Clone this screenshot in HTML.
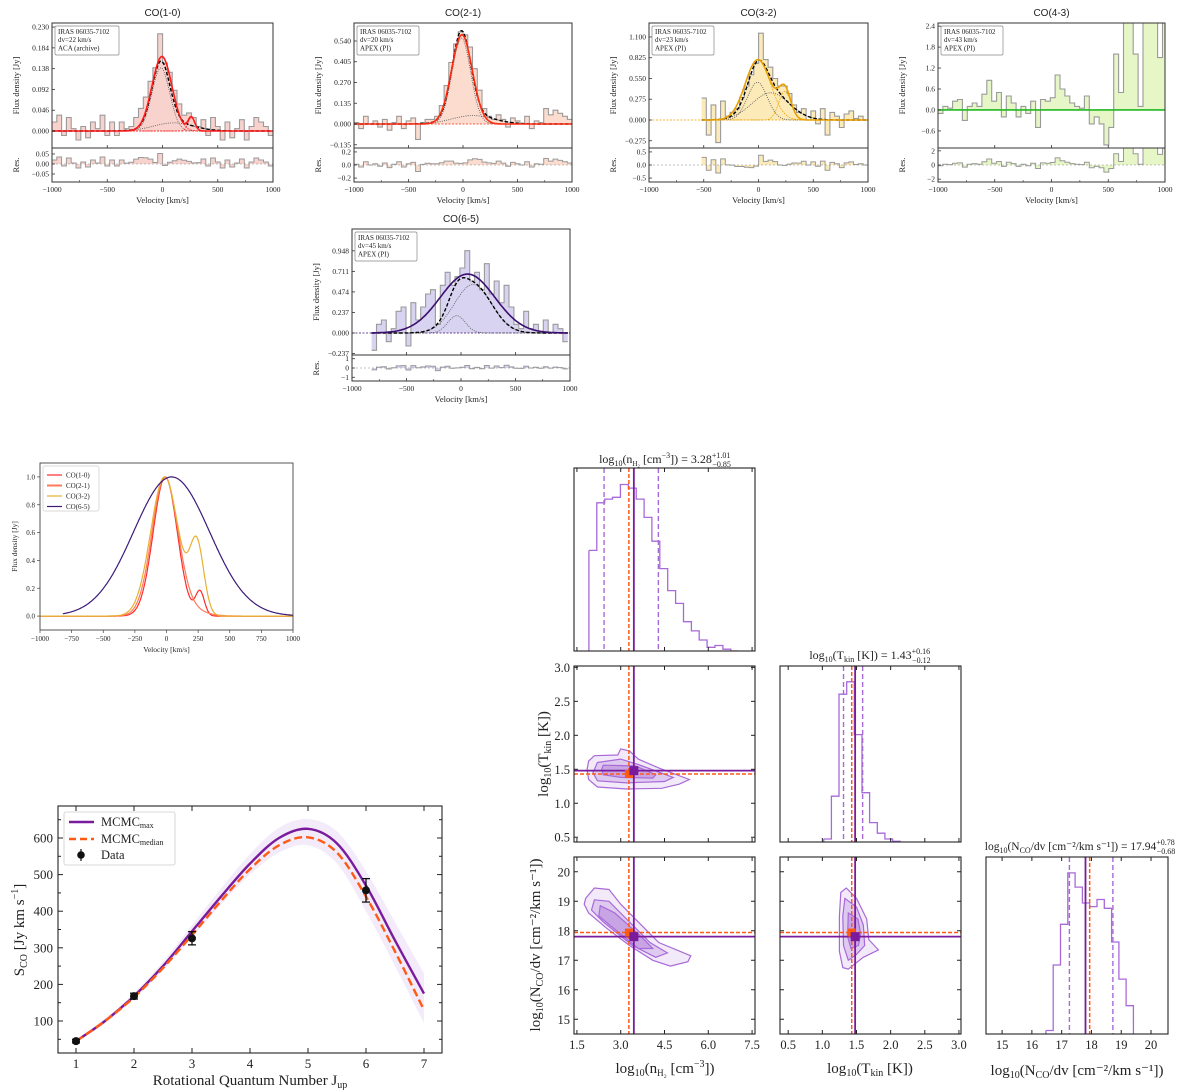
<!DOCTYPE html>
<html><head><meta charset="utf-8"><title>CO SLED figure</title>
<style>
html,body{margin:0;padding:0;background:#fff;}
svg{display:block;}
text{font-family:"Liberation Serif","DejaVu Serif",serif;fill:#222;}
.sans{font-family:"Liberation Sans","DejaVu Sans",sans-serif;}
</style></head>
<body>
<svg id="fig" xmlns="http://www.w3.org/2000/svg" width="1200" height="1090" viewBox="0 0 1200 1090"></svg>
<script>
// ---------------- DATA ----------------
const co10Start=-1000, co10Width=43.5;
const co10Values=[0.02,0.035,-0.01,0.03,0.005,-0.02,0.01,-0.015,0.02,0.005,0.035,-0.01,0.02,-0.01,0.02,0.005,0.01,0.03,0.05,0.075,0.11,0.14,0.215,0.15,0.13,0.09,0.06,0.035,0.04,0.03,0.01,0.025,-0.01,0.03,0.01,-0.02,0.02,-0.015,0.005,0.025,-0.02,0.01,0.03,0.02,0.01,-0.01];
const co10FitAmp=[0.165,0.03], co10FitCen=[-5,262], co10FitSig=[90,30];
const co10AltAmp=[0.14,0.018], co10AltCen=[-15,100], co10AltSig=[80,180];

const co21Start=-1000, co21Width=43.5;
const co21Values=[0.01,-0.03,0.05,0.0,0.02,-0.02,0.03,-0.04,0.01,0.05,-0.03,0.02,0.04,-0.1,0.01,0.03,0.03,0.05,0.12,0.25,0.4,0.52,0.6,0.58,0.5,0.36,0.22,0.1,0.05,0.03,0.06,0.03,-0.02,0.04,0.02,0.0,0.05,-0.03,0.02,0.01,0.1,0.06,0.09,0.07,0.05,0.03];
const co21FitAmp=[0.58], co21FitCen=[-10], co21FitSig=[95];
const co21AltAmp=[0.56,0.055], co21AltCen=[-15,90], co21AltSig=[85,190];

const co32Start=-520, co32Width=43.4;
const co32Values=[0.29,-0.2,0.2,-0.3,0.25,0.05,0.1,0.15,0.3,0.45,0.6,0.75,1.15,0.8,0.7,0.55,0.45,0.45,0.35,0.2,0.1,0.15,0.0,0.12,-0.05,0.15,-0.2,0.1,0.05,-0.1,0.08,0.12,0.02,0.05,0.0];
const co32FitAmp=[0.8,0.38], co32FitCen=[-5,240], co32FitSig=[115,55];
const co32AltAmp=[0.5,0.36], co32AltCen=[-10,110], co32AltSig=[90,170];

const co43Start=-1000, co43Width=43;
const co43Values=[-0.1,0.1,0.05,0.25,0.3,-0.3,0.1,0.2,0.1,0.45,0.85,0.25,0.5,-0.2,0.4,0.2,-0.2,0.1,-0.1,0.25,-0.5,0.3,0.25,0.35,1.0,0.6,0.4,0.2,0.1,0.05,0.4,-0.4,-0.2,-0.4,-1.0,-0.5,1.6,0.5,2.7,2.7,1.6,0.1,2.6,2.7,2.7,1.5,2.7];
const co43FitAmp=[0], co43FitCen=[0], co43FitSig=[100];
const co43AltAmp=[], co43AltCen=[], co43AltSig=[];

const co65Start=-820, co65Width=45;
const co65Values=[-0.2,0.1,0.15,-0.1,0.05,0.25,0.3,-0.15,0.35,0.15,0.3,0.45,0.5,0.1,0.55,0.7,0.55,0.65,0.75,0.95,0.6,0.7,0.5,0.8,0.45,0.6,0.35,0.55,0.3,0.1,0.05,0.25,0.05,0.1,0.0,0.15,0.0,0.1,0.05,-0.1];
const co65FitAmp=[0.68], co65FitCen=[60], co65FitSig=[250];
const co65AltAmp=[0.2,0.56], co65AltCen=[-40,110], co65AltSig=[80,170];

const profNames=['CO(1-0)','CO(2-1)','CO(3-2)','CO(6-5)'];
const profColors=['#ff2a2a','#ff7a5a','#e8b030','#3b1a78'];
const profAmps=[[1.0,0.17],[0.95,0.08],[0.9,0.45],[1.0]];
const profCens=[[-10,265],[-15,80],[-15,240],[40]];
const profSigs=[[95,35],[100,150],[110,55],[300]];
const profStart=[-1000,-1000,-1000,-820];

const sledJ=[1,1.5,2,2.5,3,3.5,4,4.5,5,5.5,6,6.5,7];
const sledMax=[45,100,168,250,345,440,530,600,625,585,470,320,175];
const sledMedian=[45,100,165,245,335,428,515,580,602,560,440,290,130];
const sledBandHi=[48,106,176,262,362,462,556,628,652,618,510,370,230];
const sledBandLo=[42,94,160,238,328,418,500,560,580,530,400,250,95];
const dataJ=[1,2,3,6];
const dataS=[45,168,326,457];
const dataErr=[5,8,18,32];

const bestMax=[3.45,1.48,17.8];
const bestMedian=[3.28,1.43,17.94];
const qLow=[2.43,1.31,17.26];
const qHigh=[4.29,1.59,18.72];
const histNStart=1.91, histNWidth=0.27;
const histNCounts=[0.55,0.81,0.83,0.84,0.91,0.89,0.83,0.73,0.60,0.45,0.33,0.26,0.16,0.11,0.06,0.02,0.03,0.01,0.0];
const histTStart=1.02, histTWidth=0.112;
const histTCounts=[0.017,0.26,0.84,0.91,0.61,0.28,0.11,0.05,0.017,0.004];
const histCStart=16.47, histCWidth=0.245;
const histCCounts=[0.02,0.39,0.62,0.91,0.83,0.74,0.72,0.76,0.71,0.52,0.31,0.16];
const contNT=[
 [[1.9,1.62],[2.1,1.70],[2.9,1.71],[3.0,1.80],[3.3,1.77],[3.6,1.65],[4.3,1.52],[5.35,1.35],[5.0,1.28],[4.4,1.22],[3.2,1.21],[2.2,1.24],[1.9,1.35],[1.85,1.50]],
 [[2.2,1.60],[3.0,1.65],[3.6,1.57],[4.8,1.38],[4.5,1.32],[3.2,1.30],[2.2,1.33],[2.05,1.45]],
 [[2.4,1.56],[3.5,1.55],[4.2,1.42],[4.1,1.37],[3.0,1.38],[2.4,1.42],[2.35,1.50]]];
const contNC=[
 [[1.8,19.1],[2.1,19.45],[2.6,19.4],[3.0,18.9],[3.6,18.3],[4.3,17.6],[5.4,17.15],[5.3,16.95],[4.7,16.8],[4.1,17.0],[3.3,17.5],[2.5,18.1],[1.9,18.6],[1.75,18.9]],
 [[2.1,19.05],[2.6,19.0],[3.2,18.4],[4.0,17.6],[4.6,17.25],[4.2,17.1],[3.4,17.5],[2.4,18.3],[2.0,18.7]],
 [[2.3,18.85],[2.8,18.6],[3.7,17.8],[4.1,17.4],[3.6,17.4],[2.8,18.05],[2.25,18.5]]];
const contTC=[
 [[1.27,19.3],[1.35,19.45],[1.5,19.1],[1.65,18.4],[1.68,17.7],[1.82,17.35],[1.6,17.1],[1.38,16.7],[1.3,16.75],[1.25,17.3],[1.25,18.5]],
 [[1.33,19.1],[1.5,18.8],[1.6,18.2],[1.62,17.5],[1.5,17.2],[1.38,17.0],[1.31,17.5],[1.3,18.5]],
 [[1.38,18.6],[1.52,18.4],[1.56,17.9],[1.53,17.5],[1.42,17.4],[1.37,17.8]]];

// ---------------- HELPERS ----------------
const NS='http://www.w3.org/2000/svg';
const svg=document.getElementById('fig');
let clipId=0;
function mk(tag,attrs,parent){const e=document.createElementNS(NS,tag);for(const k in attrs)e.setAttribute(k,attrs[k]);(parent||svg).appendChild(e);return e;}
function txt(x,y,s,attrs,parent){const t=mk('text',Object.assign({x:x,y:y},attrs||{}),parent);t.textContent=s;return t;}
function lin(d0,d1,r0,r1){return v=>r0+(v-d0)*(r1-r0)/(d1-d0);}
function gsum(v,A,C,S){let s=0;for(let i=0;i<A.length;i++)s+=A[i]*Math.exp(-(v-C[i])*(v-C[i])/(2*S[i]*S[i]));return s;}
function clip(x,y,w,h){const id='c'+(clipId++);const cp=mk('clipPath',{id:id});mk('rect',{x:x,y:y,width:w,height:h},cp);return 'url(#'+id+')';}
function fmt(v,d){return (v<0?'\u2212':'')+Math.abs(v).toFixed(d);}
function stepD(start,w,vals,X,Y){let d='';vals.forEach((v,i)=>{const xa=X(start+i*w),xb=X(start+(i+1)*w),y=Y(v);d+=(i?'L':'M')+xa.toFixed(1)+','+y.toFixed(1)+'L'+xb.toFixed(1)+','+y.toFixed(1);});return d;}
function curveD(x0,x1,f,X,Y,n){let d='';for(let i=0;i<=n;i++){const v=x0+(x1-x0)*i/n;d+=(i?'L':'M')+X(v).toFixed(1)+','+Y(f(v)).toFixed(1);}return d;}
function polyD(pts,X,Y){return pts.map((p,i)=>(i?'L':'M')+X(p[0]).toFixed(1)+','+Y(p[1]).toFixed(1)).join('')+'Z';}
function smoothD(xs,ys,X,Y){const P=xs.map((x,i)=>[X(x),Y(ys[i])]);let d='M'+P[0][0]+','+P[0][1];for(let i=0;i<P.length-1;i++){const p0=P[Math.max(0,i-1)],p1=P[i],p2=P[i+1],p3=P[Math.min(P.length-1,i+2)];const c1=[p1[0]+(p2[0]-p0[0])/6,p1[1]+(p2[1]-p0[1])/6],c2=[p2[0]-(p3[0]-p1[0])/6,p2[1]-(p3[1]-p1[1])/6];d+='C'+c1.join(',')+' '+c2.join(',')+' '+p2.join(',');}return d;}

// ---------------- SPECTRUM PANELS ----------------
function spectrum(c){
  const g=mk('g',{});
  
  
  const X=lin(-1000,1000,c.x0,c.x1);
  const Y=lin(c.ymin,c.ymax,c.yMid,c.yTop);
  const R=lin(c.rmin,c.rmax,c.yBot,c.yMid);
  const w=c.x1-c.x0;
  const t=txt((c.x0+c.x1)/2,c.yTop-7,c.title,{'text-anchor':'middle','font-size':10,'class':'sans'},g);
  
  
  const cm=clip(c.x0,c.yTop,w,c.yMid-c.yTop);
  const gm=mk('g',{'clip-path':cm},g);
  const end=c.start+c.width*c.values.length;
  const sd=stepD(c.start,c.width,c.values,X,Y);
  const fill=mk('path',{d:'M'+X(c.start)+','+Y(0)+sd.replace(/^M/,'L')+'L'+X(end)+','+Y(0)+'Z',fill:c.fill,stroke:'none'},gm);
  
  
  const st=mk('path',{d:sd,fill:'none',stroke:'#9a9a9a','stroke-width':1.1},gm);
  
  
  mk('line',{x1:c.x0,x2:c.x1,y1:Y(0),y2:Y(0),stroke:c.color,'stroke-width':0.8,'stroke-dasharray':'2,1.5'},gm);
  const lo=c.start, hi=Math.min(1000,end);
  c.altAmp.forEach((a,i)=>{mk('path',{d:curveD(lo,hi,v=>gsum(v,[a],[c.altCen[i]],[c.altSig[i]]),X,Y,160),fill:'none',stroke:'#555','stroke-width':0.8,'stroke-dasharray':'1,1.2'},gm);});
  if(c.fitAmp.length>1)c.fitAmp.forEach((a,i)=>{mk('path',{d:curveD(lo,hi,v=>gsum(v,[a],[c.fitCen[i]],[c.fitSig[i]]),X,Y,160),fill:'none',stroke:c.color,'stroke-width':0.7,'stroke-dasharray':'2,1'},gm);});
  if(c.altAmp.length){const al=mk('path',{d:curveD(lo,hi,v=>gsum(v,c.altAmp,c.altCen,c.altSig),X,Y,200),fill:'none',stroke:'#000','stroke-width':1.4,'stroke-dasharray':'3.5,2'},gm);
    
    }
  const fl=mk('path',{d:curveD(lo,c.fitFull?1000:hi,v=>gsum(v,c.fitAmp,c.fitCen,c.fitSig),X,Y,200),fill:'none',stroke:c.color,'stroke-width':1.6},gm);
  
  
  const cr=clip(c.x0,c.yMid,w,c.yBot-c.yMid);
  const gr=mk('g',{'clip-path':cr},g);
  const res=c.values.map((v,i)=>v-gsum(c.start+(i+0.5)*c.width,c.fitAmp,c.fitCen,c.fitSig));
  const rd=stepD(c.start,c.width,res,X,R);
  mk('path',{d:'M'+X(c.start)+','+R(0)+rd.replace(/^M/,'L')+'L'+X(end)+','+R(0)+'Z',fill:c.fill,stroke:'none'},gr);
  const rs=mk('path',{d:rd,fill:'none',stroke:'#9a9a9a','stroke-width':1},gr);
  
  
  mk('line',{x1:c.x0,x2:c.x1,y1:R(0),y2:R(0),stroke:'#888','stroke-width':0.6,'stroke-dasharray':'2,2'},gr);
  mk('rect',{x:c.x0,y:c.yTop,width:w,height:c.yMid-c.yTop,fill:'none',stroke:'#333','stroke-width':1},g);
  mk('rect',{x:c.x0,y:c.yMid,width:w,height:c.yBot-c.yMid,fill:'none',stroke:'#333','stroke-width':1},g);
  [-1000,-500,0,500,1000].forEach(v=>{
    mk('line',{x1:X(v),x2:X(v),y1:c.yBot,y2:c.yBot-3,stroke:'#333','stroke-width':0.8},g);
    mk('line',{x1:X(v),x2:X(v),y1:c.yMid,y2:c.yMid-3,stroke:'#333','stroke-width':0.8},g);
    txt(X(v),c.yBot+10,fmt(v,0),{'text-anchor':'middle','font-size':7.5},g);
  });
  for(let v=-750;v<=750;v+=500){mk('line',{x1:X(v),x2:X(v),y1:c.yBot,y2:c.yBot-2,stroke:'#333','stroke-width':0.6},g);}
  c.yticks.forEach(v=>{mk('line',{x1:c.x0,x2:c.x0+3,y1:Y(v),y2:Y(v),stroke:'#333','stroke-width':0.8},g);
    txt(c.x0-3,Y(v)+2.5,fmt(v,c.ydec),{'text-anchor':'end','font-size':7.5},g);});
  c.rticks.forEach(v=>{mk('line',{x1:c.x0,x2:c.x0+3,y1:R(v),y2:R(v),stroke:'#333','stroke-width':0.8},g);
    txt(c.x0-3,R(v)+2.5,fmt(v,c.rdec),{'text-anchor':'end','font-size':7.5},g);});
  const xl=txt((c.x0+c.x1)/2,c.yBot+21,'Velocity [km/s]',{'text-anchor':'middle','font-size':8.5},g);
  
  
  const yl=txt(0,0,'Flux density [Jy]',{'text-anchor':'middle','font-size':8.5,transform:'translate('+(c.x0-33)+','+((c.yTop+c.yMid)/2)+') rotate(-90)'},g);
  
  
  txt(0,0,'Res.',{'text-anchor':'middle','font-size':8.5,transform:'translate('+(c.x0-33)+','+((c.yMid+c.yBot)/2)+') rotate(-90)'},g);
  const ib=mk('g',{},g);
  
  
  mk('rect',{x:c.x0+3,y:c.yTop+3,width:c.boxW||62,height:29,fill:'#fff',stroke:'#888','stroke-width':0.7,rx:1.5},ib);
  c.info.forEach((s,i)=>txt(c.x0+6,c.yTop+11+i*8.2,s,{'font-size':7},ib));
}
spectrum({name:'panel-co10',title:'CO(1-0)',x0:52,x1:273,yTop:23,yMid:148,yBot:182,ymin:-0.0376,ymax:0.239,rmin:-0.09,rmax:0.08,
 yticks:[0,0.046,0.092,0.138,0.184,0.230],ydec:3,rticks:[-0.05,0,0.05],rdec:2,fill:'#f8d3cd',color:'#ff1a1a',
 start:co10Start,width:co10Width,values:co10Values,fitAmp:co10FitAmp,fitCen:co10FitCen,fitSig:co10FitSig,altAmp:co10AltAmp,altCen:co10AltCen,altSig:co10AltSig,fitFull:true,
 info:['IRAS 06035-7102','dv=22 km/s','ACA (archive)'],boxW:64});
spectrum({name:'panel-co21',title:'CO(2-1)',x0:354,x1:572,yTop:23,yMid:148,yBot:182,ymin:-0.156,ymax:0.657,rmin:-0.26,rmax:0.26,
 yticks:[-0.135,0,0.135,0.270,0.405,0.540],ydec:3,rticks:[-0.2,0,0.2],rdec:1,fill:'#fbdccf',color:'#ff2a10',
 start:co21Start,width:co21Width,values:co21Values,fitAmp:co21FitAmp,fitCen:co21FitCen,fitSig:co21FitSig,altAmp:co21AltAmp,altCen:co21AltCen,altSig:co21AltSig,fitFull:true,
 info:['IRAS 06035-7102','dv=20 km/s','APEX (PI)']});
spectrum({name:'panel-co32',title:'CO(3-2)',x0:649,x1:868,yTop:23,yMid:148,yBot:182,ymin:-0.371,ymax:1.285,rmin:-0.65,rmax:0.65,
 yticks:[-0.275,0,0.275,0.550,0.825,1.100],ydec:3,rticks:[-0.5,0,0.5],rdec:1,fill:'#fcebb8',color:'#eaa000',
 start:co32Start,width:co32Width,values:co32Values,fitAmp:co32FitAmp,fitCen:co32FitCen,fitSig:co32FitSig,altAmp:co32AltAmp,altCen:co32AltCen,altSig:co32AltSig,fitFull:false,
 info:['IRAS 06035-7102','dv=23 km/s','APEX (PI)']});
spectrum({name:'panel-co43',title:'CO(4-3)',x0:938,x1:1165,yTop:23,yMid:148,yBot:182,ymin:-1.09,ymax:2.49,rmin:-2.4,rmax:2.4,
 yticks:[-0.6,0,0.6,1.2,1.8,2.4],ydec:1,rticks:[-2,0,2],rdec:0,fill:'#e6f6c6',color:'#22b822',
 start:co43Start,width:co43Width,values:co43Values,fitAmp:co43FitAmp,fitCen:co43FitCen,fitSig:co43FitSig,altAmp:co43AltAmp,altCen:co43AltCen,altSig:co43AltSig,fitFull:true,
 info:['IRAS 06035-7102','dv=43 km/s','APEX (PI)']});
spectrum({name:'panel-co65',title:'CO(6-5)',x0:352,x1:570,yTop:229,yMid:355,yBot:381,ymin:-0.254,ymax:1.20,rmin:-1.4,rmax:1.4,
 yticks:[-0.237,0,0.237,0.474,0.711,0.948],ydec:3,rticks:[-1,0,1],rdec:0,fill:'#d8d3f0',color:'#3b0f70',
 start:co65Start,width:co65Width,values:co65Values,fitAmp:co65FitAmp,fitCen:co65FitCen,fitSig:co65FitSig,altAmp:co65AltAmp,altCen:co65AltCen,altSig:co65AltSig,fitFull:false,
 info:['IRAS 06035-7102','dv=45 km/s','APEX (PI)']});

// ---------------- PROFILE COMPARISON ----------------
(function(){
  const x0=40,x1=293,yT=463,yB=630;
  const g=mk('g',{});
  
  
  const X=lin(-1000,1000,x0,x1), Y=lin(-0.1,1.1,yB,yT);
  const cp=clip(x0,yT,x1-x0,yB-yT);
  const gc=mk('g',{'clip-path':cp},g);
  profNames.forEach((n,k)=>{
    let mx=0;for(let v=-1000;v<=1000;v+=5)mx=Math.max(mx,gsum(v,profAmps[k],profCens[k],profSigs[k]));
    const p=mk('path',{d:curveD(profStart[k],1000,v=>gsum(v,profAmps[k],profCens[k],profSigs[k])/mx,X,Y,300),fill:'none',stroke:profColors[k],'stroke-width':1.2},gc);
    
    
  });
  mk('rect',{x:x0,y:yT,width:x1-x0,height:yB-yT,fill:'none',stroke:'#444','stroke-width':0.9},g);
  for(let v=-1000;v<=1000;v+=250){mk('line',{x1:X(v),x2:X(v),y1:yB,y2:yB+3,stroke:'#444','stroke-width':0.7},g);txt(X(v),yB+11,fmt(v,0),{'text-anchor':'middle','font-size':7},g);}
  for(let v=0;v<=1.001;v+=0.2){mk('line',{x1:x0,x2:x0-3,y1:Y(v),y2:Y(v),stroke:'#444','stroke-width':0.7},g);txt(x0-5,Y(v)+2.5,v.toFixed(1),{'text-anchor':'end','font-size':7},g);}
  txt((x0+x1)/2,yB+22,'Velocity [km/s]',{'text-anchor':'middle','font-size':7.5},g);
  txt(0,0,'Flux density [Jy]',{'text-anchor':'middle','font-size':7.5,transform:'translate(17,'+((yT+yB)/2)+') rotate(-90)'},g);
  const lg=mk('g',{},g);
  
  
  mk('rect',{x:x0+3,y:yT+3,width:56,height:45,fill:'#fff',stroke:'#ccc','stroke-width':0.7,rx:2},lg);
  profNames.forEach((n,k)=>{const y=yT+12+k*10.5;mk('line',{x1:x0+7,x2:x0+22,y1:y,y2:y,stroke:profColors[k],'stroke-width':k==1?2:1.2},lg);txt(x0+26,y+2.5,n,{'font-size':7},lg);});
})();

// ---------------- SLED ----------------
(function(){
  const x0=58,x1=442,yT=806,yB=1053;
  const g=mk('g',{});
  
  
  const X=lin(1,7,76,424), Y=lin(100,600,1021,838);
  const cp=clip(x0,yT,x1-x0,yB-yT);
  const gc=mk('g',{'clip-path':cp},g);
  const hi=smoothD(sledJ,sledBandHi,X,Y), lo=smoothD(sledJ.slice().reverse(),sledBandLo.slice().reverse(),X,Y);
  const band=mk('path',{d:hi+'L'+lo.slice(1)+'Z',fill:'#8b3fc4','fill-opacity':0.1,stroke:'none'},gc);
  
  
  const m1=mk('path',{d:smoothD(sledJ,sledMax,X,Y),fill:'none',stroke:'#7a1a9c','stroke-width':2.4},gc);
  
  
  const m2=mk('path',{d:smoothD(sledJ,sledMedian,X,Y),fill:'none',stroke:'#ff5a14','stroke-width':2.4,'stroke-dasharray':'8,4'},gc);
  
  
  dataJ.forEach((j,i)=>{
    const eg=mk('g',{},gc);
    
    
    const x=X(j);
    mk('line',{x1:x,x2:x,y1:Y(dataS[i]-dataErr[i]),y2:Y(dataS[i]+dataErr[i]),stroke:'#000','stroke-width':1.2},eg);
    mk('line',{x1:x-4,x2:x+4,y1:Y(dataS[i]-dataErr[i]),y2:Y(dataS[i]-dataErr[i]),stroke:'#000','stroke-width':1.2},eg);
    mk('line',{x1:x-4,x2:x+4,y1:Y(dataS[i]+dataErr[i]),y2:Y(dataS[i]+dataErr[i]),stroke:'#000','stroke-width':1.2},eg);
    mk('circle',{cx:x,cy:Y(dataS[i]),r:4,fill:'#111'},eg);
  });
  mk('rect',{x:x0,y:yT,width:x1-x0,height:yB-yT,fill:'none',stroke:'#222','stroke-width':1.1},g);
  for(let j=1;j<=7;j++){mk('line',{x1:X(j),x2:X(j),y1:yB,y2:yB-5,stroke:'#222'},g);mk('line',{x1:X(j),x2:X(j),y1:yT,y2:yT+5,stroke:'#222'},g);txt(X(j),yB+15,String(j),{'text-anchor':'middle','font-size':13},g);}
  for(let v=100;v<=600;v+=100){mk('line',{x1:x0,x2:x0+5,y1:Y(v),y2:Y(v),stroke:'#222'},g);mk('line',{x1:x1,x2:x1-5,y1:Y(v),y2:Y(v),stroke:'#222'},g);txt(x0-5,Y(v)+4.5,String(v),{'text-anchor':'end','font-size':13},g);}
  for(let v=50;v<=650;v+=100){mk('line',{x1:x0,x2:x0+3,y1:Y(v),y2:Y(v),stroke:'#222'},g);mk('line',{x1:x1,x2:x1-3,y1:Y(v),y2:Y(v),stroke:'#222'},g);}
  const xl=txt(250,1085,'Rotational Quantum Number J',{'text-anchor':'middle','font-size':15},g);
  const sb=mk('tspan',{'font-size':10,dy:3},xl);sb.textContent='up';
  
  
  const yl=txt(0,0,'S',{'text-anchor':'middle','font-size':15,transform:'translate(24,930) rotate(-90)'},g);
  let s=mk('tspan',{'font-size':10,dy:3},yl);s.textContent='CO';
  s=mk('tspan',{dy:-3},yl);s.textContent=' [Jy km s';
  s=mk('tspan',{'font-size':10,dy:-6},yl);s.textContent='\u22121';
  s=mk('tspan',{dy:6},yl);s.textContent=']';
  
  
  const lg=mk('g',{},g);
  
  
  mk('rect',{x:64,y:812,width:111,height:53,fill:'#fff','fill-opacity':0.85,stroke:'#ccc','stroke-width':0.8,rx:2},lg);
  mk('line',{x1:69,x2:94,y1:822,y2:822,stroke:'#7a1a9c','stroke-width':2.4},lg);
  let t=txt(101,826,'MCMC',{'font-size':12.5},lg);s=mk('tspan',{'font-size':8,dy:2},t);s.textContent='max';
  mk('line',{x1:69,x2:94,y1:839,y2:839,stroke:'#ff5a14','stroke-width':2.4,'stroke-dasharray':'7,4'},lg);
  t=txt(101,843,'MCMC',{'font-size':12.5},lg);s=mk('tspan',{'font-size':8,dy:2},t);s.textContent='median';
  mk('circle',{cx:81,cy:855,r:3.8,fill:'#111'},lg);
  mk('line',{x1:81,x2:81,y1:849,y2:861,stroke:'#111','stroke-width':1.2},lg);
  txt(101,859,'Data',{'font-size':12.5},lg);
})();

// ---------------- CORNER PLOT ----------------
(function(){
  const cols=[[574,755],[780,961],[986,1168]];
  const rows=[[468,651],[666,842],[857,1034]];
  const xr=[[1.40,7.6],[0.38,3.03],[14.46,20.57]];
  const yr=[null,[0.43,3.02],[14.5,20.5]];
  const PUR='#7a1a9c', ORG='#ff5a14', LAV='#a86ad8';
  const g=mk('g',{});
  
  
  const Xs=cols.map((c,i)=>lin(xr[i][0],xr[i][1],c[0],c[1]));
  const hists=[[histNStart,histNWidth,histNCounts],[histTStart,histTWidth,histTCounts],[histCStart,histCWidth,histCCounts]];
  const conts={ '1,0':contNT,'2,0':contNC,'2,1':contTC };
  for(let r=0;r<3;r++)for(let c=0;c<=r;c++){
    const [x0,x1]=cols[c],[y0,y1]=rows[r];
    const pg=mk('g',{},g);
    
    
    const cp=clip(x0,y0,x1-x0,y1-y0);
    const gc=mk('g',{'clip-path':cp},pg);
    const X=Xs[c];
    if(r==c){
      const H=lin(0,1,y1,y0);
      const [st,w,cnt]=hists[r];
      const h=mk('path',{d:stepD(st,w,cnt,X,H)+'L'+X(st+w*cnt.length)+','+y1+'M'+X(st)+','+y1+'L'+X(st)+','+H(cnt[0]),fill:'none',stroke:LAV,'stroke-width':1.3},gc);
      
      
      [qLow[r],qHigh[r]].forEach(q=>mk('line',{x1:X(q),x2:X(q),y1:y0,y2:y1,stroke:LAV,'stroke-width':1.4,'stroke-dasharray':'5,3'},gc));
      mk('line',{x1:X(bestMedian[r]),x2:X(bestMedian[r]),y1:y0,y2:y1,stroke:ORG,'stroke-width':1.5,'stroke-dasharray':'4,2'},gc);
      mk('line',{x1:X(bestMax[r]),x2:X(bestMax[r]),y1:y0,y2:y1,stroke:PUR,'stroke-width':1.8},gc);
    } else {
      const Y=lin(yr[r][0],yr[r][1],y1,y0);
      const cs=conts[r+','+c];
      cs.forEach((pts,k)=>{const p=mk('path',{d:polyD(pts,X,Y),fill:'#9b59d0','fill-opacity':0.13+k*0.1,stroke:LAV,'stroke-width':1.2},gc);
        
        });
      mk('line',{x1:X(bestMedian[c]),x2:X(bestMedian[c]),y1:y0,y2:y1,stroke:ORG,'stroke-width':1.5,'stroke-dasharray':'4,2'},gc);
      mk('line',{x1:x0,x2:x1,y1:Y(bestMedian[r]),y2:Y(bestMedian[r]),stroke:ORG,'stroke-width':1.5,'stroke-dasharray':'4,2'},gc);
      mk('line',{x1:X(bestMax[c]),x2:X(bestMax[c]),y1:y0,y2:y1,stroke:PUR,'stroke-width':1.8},gc);
      mk('line',{x1:x0,x2:x1,y1:Y(bestMax[r]),y2:Y(bestMax[r]),stroke:PUR,'stroke-width':1.8},gc);
      mk('rect',{x:X(bestMedian[c])-4,y:Y(bestMedian[r])-4,width:8,height:8,fill:ORG},gc);
      mk('rect',{x:X(bestMax[c])-4.5,y:Y(bestMax[r])-4.5,width:9,height:9,fill:PUR},gc);
      const yt=r==1?[0.5,1.0,1.5,2.0,2.5,3.0]:[15,16,17,18,19,20];
      yt.forEach(v=>{mk('line',{x1:x0,x2:x0+4,y1:Y(v),y2:Y(v),stroke:'#222'},pg);mk('line',{x1:x1,x2:x1-4,y1:Y(v),y2:Y(v),stroke:'#222'},pg);
        if(c==0)txt(x0-4,Y(v)+4.5,r==1?v.toFixed(1):String(v),{'text-anchor':'end','font-size':12.5},pg);});
    }
    mk('rect',{x:x0,y:y0,width:x1-x0,height:y1-y0,fill:'none',stroke:'#222','stroke-width':1.1},pg);
    const xt=c==0?[1.5,3.0,4.5,6.0,7.5]:c==1?[0.5,1.0,1.5,2.0,2.5,3.0]:[15,16,17,18,19,20];
    xt.forEach(v=>{mk('line',{x1:X(v),x2:X(v),y1:y1,y2:y1-4,stroke:'#222'},pg);mk('line',{x1:X(v),x2:X(v),y1:y0,y2:y0+4,stroke:'#222'},pg);
      if(r==2)txt(X(v),y1+15,c==2?String(v):v.toFixed(1),{'text-anchor':'middle','font-size':12.5},pg);});
  }
  function sub(t,s,small){const e=mk('tspan',{'font-size':small||8,dy:3},t);e.textContent=s;const b=mk('tspan',{dy:-3},t);return b;}
  let t=txt(665,463,'log',{'text-anchor':'middle','font-size':12},g);
  
  
  let b=sub(t,'10');b.textContent='(n';b=sub(t,'H\u2082',7);b.textContent=' [cm';
  let e=mk('tspan',{'font-size':8,dy:-5},t);e.textContent='\u22123';e=mk('tspan',{dy:5},t);e.textContent=']) = 3.28';
  e=mk('tspan',{'font-size':8,dy:-5},t);e.textContent='+1.01';e=mk('tspan',{'font-size':8,dx:-18,dy:9},t);e.textContent='\u22120.85';
  t=txt(870,659,'log',{'text-anchor':'middle','font-size':12},g);
  
  
  b=sub(t,'10');b.textContent='(T';b=sub(t,'kin');b.textContent=' [K]) = 1.43';
  e=mk('tspan',{'font-size':8,dy:-5},t);e.textContent='+0.16';e=mk('tspan',{'font-size':8,dx:-18,dy:9},t);e.textContent='\u22120.12';
  t=txt(1080,850,'log',{'text-anchor':'middle','font-size':11.5},g);
  
  
  b=sub(t,'10');b.textContent='(N';b=sub(t,'CO');b.textContent='/dv [cm\u207B\u00B2/km s\u207B\u00B9]) = 17.94';
  e=mk('tspan',{'font-size':8,dy:-5},t);e.textContent='+0.78';e=mk('tspan',{'font-size':8,dx:-18,dy:9},t);e.textContent='\u22120.68';
  t=txt(665,1073,'log',{'text-anchor':'middle','font-size':15},g);
  
  
  b=sub(t,'10',10);b.textContent='(n';b=sub(t,'H\u2082',9);b.textContent=' [cm';
  e=mk('tspan',{'font-size':10,dy:-6},t);e.textContent='\u22123';e=mk('tspan',{dy:6},t);e.textContent='])';
  t=txt(870,1073,'log',{'text-anchor':'middle','font-size':15},g);
  
  
  b=sub(t,'10',10);b.textContent='(T';b=sub(t,'kin',10);b.textContent=' [K])';
  t=txt(1077,1075,'log',{'text-anchor':'middle','font-size':15},g);
  
  
  b=sub(t,'10',10);b.textContent='(N';b=sub(t,'CO',10);b.textContent='/dv [cm\u207B\u00B2/km s\u207B\u00B9])';
  t=txt(0,0,'log',{'text-anchor':'middle','font-size':15,transform:'translate(548,754) rotate(-90)'},g);
  
  
  b=sub(t,'10',10);b.textContent='(T';b=sub(t,'kin',10);b.textContent=' [K])';
  t=txt(0,0,'log',{'text-anchor':'middle','font-size':15,transform:'translate(540,945) rotate(-90)'},g);
  
  
  b=sub(t,'10',10);b.textContent='(N';b=sub(t,'CO',10);b.textContent='/dv [cm\u207B\u00B2/km s\u207B\u00B9])';
})();
</script>
</body></html>
